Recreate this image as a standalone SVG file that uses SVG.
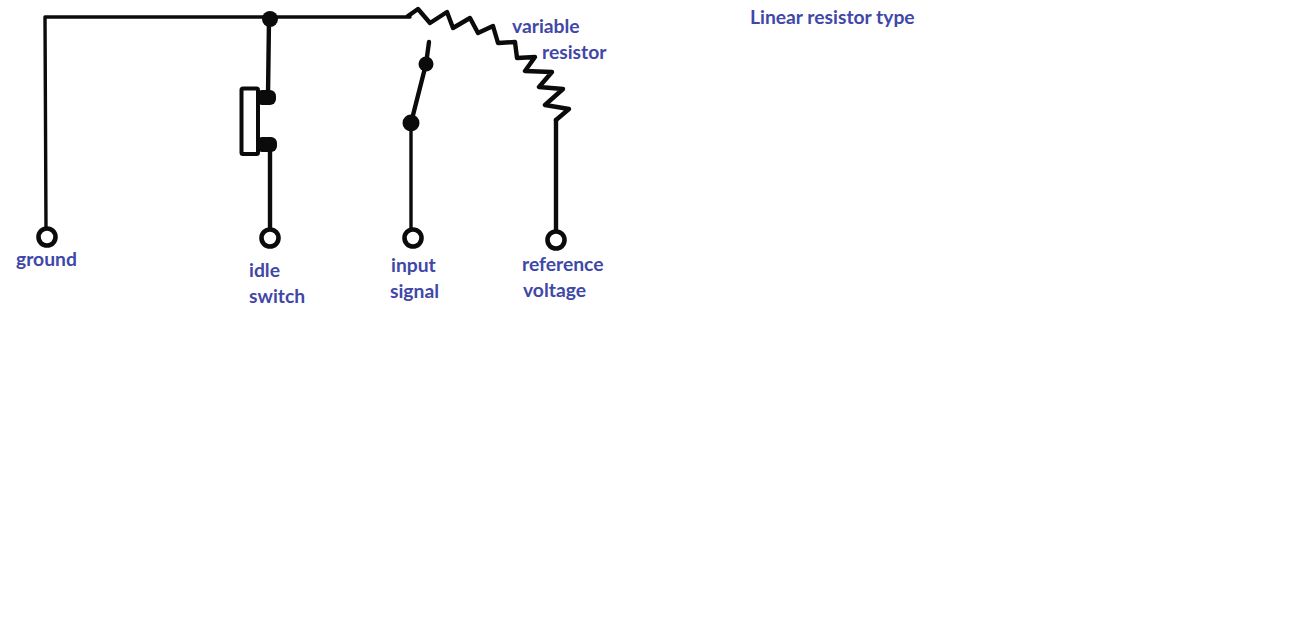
<svg xmlns="http://www.w3.org/2000/svg" width="1300" height="643" viewBox="0 0 1300 643">
<style>
.w{fill:none;stroke:#0b0b0b;stroke-width:3.4;stroke-linejoin:round;stroke-linecap:round}
.r{fill:none;stroke:#0b0b0b;stroke-width:4.4;stroke-linejoin:round;stroke-linecap:round}
.t{fill:#fff;stroke:#0b0b0b;stroke-width:4.6}
.d{fill:#0b0b0b}
text{font-family:"Lato","Liberation Sans",sans-serif;font-weight:700;font-size:19.3px;fill:#3f48a8}
</style>
<rect width="1300" height="643" fill="#fff"/>
<g id="connectors">
<path class="w" d="M46 230L45 17H410"/>
<path class="r" d="M269 19L268 95"/>
<path class="r" d="M270 148V232"/>
<path class="w" d="M411 123V232"/>
<path class="r" d="M411 123L426 64L429 42"/>
<path class="r" d="M556 120L556 232"/>
</g>
<g id="variable-resistor">
<path class="r" d="M408 16L418 9L430 23L447 12L453 28L470 18L478 33L493 26L498 43L515 42L517 58L535 57L525 71L552 72L539 87L563 89L545 105L569 109L556 120"/>
</g>
<g id="junction"><circle class="d" cx="270" cy="19" r="8"/></g>
<g id="idle-switch-contact">
<rect x="241.500" y="88.500" width="16.500" height="65.500" rx="1.500" fill="#fff" stroke="#0b0b0b" stroke-width="4"/>
<rect class="d" x="256" y="90" width="20" height="15" rx="6"/>
<rect class="d" x="256" y="137" width="21" height="15" rx="6"/>
</g>
<g id="wiper"><circle class="d" cx="426" cy="64" r="7.500"/><circle class="d" cx="411" cy="123" r="8.500"/></g>
<g id="ground"><circle class="t" cx="47" cy="237" r="8.500"/><text x="16" y="266">ground</text></g>
<g id="idle-switch"><circle class="t" cx="270" cy="238" r="8.500"/><text x="249" y="277">idle</text><text x="249" y="303">switch</text></g>
<g id="input-signal"><circle class="t" cx="413" cy="238" r="8.500"/><text x="391" y="272">input</text><text x="390" y="298">signal</text></g>
<g id="reference-voltage"><circle class="t" cx="556" cy="240" r="8.500"/><text x="522" y="271">reference</text><text x="523" y="297">voltage</text></g>
<g id="resistor-label"><text x="512" y="33">variable</text><text x="542" y="59">resistor</text></g>
<g id="title"><text x="750" y="24">Linear resistor type</text></g>
</svg>
